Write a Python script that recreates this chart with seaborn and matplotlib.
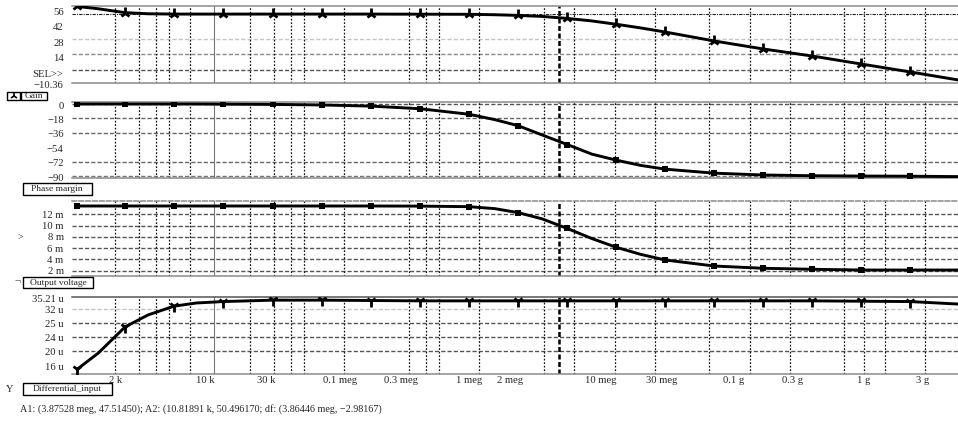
import seaborn as sns
import pandas as pd
import matplotlib.pyplot as plt
from matplotlib.patches import Rectangle
from matplotlib.lines import Line2D
from matplotlib.ticker import FixedLocator, NullLocator
from matplotlib.transforms import ScaledTranslation

# values
freq_hz = [1.045e3, 1.5e3, 2.37e3, 3.5e3, 5.47e3, 8.0e3, 12.6e3, 29.6e3, 68.2e3,
           157e3, 363e3, 837e3, 1.3e6, 1.93e6, 2.9e6, 4.46e6, 6.8e6, 10.3e6,
           15.6e6, 23.7e6, 54.7e6, 126e6, 291e6, 671e6, 1.55e9, 3.5e9]
marker_idx = [0, 2, 4, 6, 7, 8, 9, 10, 11, 13, 15, 17, 19, 20, 21, 22, 23, 24]

gain_db = [57.4, 55.3, 51.8, 50.8, 50.5, 50.5, 50.5, 50.5, 50.5, 50.5, 50.4, 50.3, 49.9,
           49.3, 48.4, 46.6, 44.3, 41.3, 38.0, 34.3, 26.2, 19.0, 12.6, 5.4, -1.8, -9.0]
phase_deg = [0, 0, 0, 0, 0, 0, -0.2, -0.5, -1.2, -2.6, -5.9, -12.8, -19.5, -27.0, -38.5,
             -50.5, -62.5, -70.0, -76.5, -81.2, -86.2, -88.5, -89.4, -89.8, -90.0, -90.5]
vout_mv = [13.47, 13.47, 13.47, 13.47, 13.47, 13.47, 13.47, 13.47, 13.47, 13.47, 13.45,
           13.35, 13.0, 12.3, 11.2, 9.5, 7.7, 6.15, 4.9, 3.9, 2.83, 2.43, 2.25, 2.12, 2.12, 2.12]
vin_uv = [14.8, 19.4, 26.8, 30.2, 32.7, 33.6, 34.0, 34.4, 34.4, 34.3, 34.2, 34.2, 34.2,
          34.2, 34.2, 34.2, 34.2, 34.2, 34.2, 34.2, 34.2, 34.2, 34.2, 34.1, 34.0, 33.3]

# vertical grid of the viewer (not on round decades)
grid_freqs = [2e3, 3e3, 4e3, 5e3, 7.2e3, 20e3, 30e3, 40e3, 50e3, 100e3, 300e3, 400e3,
              500e3, 1e6, 3e6, 5e6, 10e6, 20e6, 50e6, 100e6, 200e6, 500e6, 700e6, 1e9, 2e9]
cursor_a1 = 3.87528e6
cursor_a2 = 10.81891e3
gain_a2 = 50.49617

xtick_pos = [2.02e3, 9.3e3, 2.65e4, 9.3e4, 2.62e5, 8.4e5, 1.69e6, 7.96e6, 2.25e7,
             7.57e7, 2.07e8, 7.06e8, 1.9e9]
xtick_labels = ['2 k', '10 k', '30 k', '0.1 meg', '0.3 meg', '1 meg', '2 meg', '10 meg',
                '30 meg', '0.1 g', '0.3 g', '1 g', '3 g']

gain_ticks = [56, 42, 28, 14, 0, -10.36]
gain_labels = ['56', '42', '28', '14', 'SEL>>', '\u221210.36']
phase_ticks = [0, -18, -36, -54, -72, -90]
phase_labels = ['0', '\u221218', '\u221236', '\u221254', '\u221272', '\u221290']
vout_ticks = [12, 10, 8, 6, 4, 2]
vout_labels = ['12 m', '10 m', '8 m', '6 m', '4 m', '2 m']
vin_ticks = [35.21, 32, 28, 24, 20, 16]
vin_labels = ['35.21 u', '32 u', '25 u', '24 u', '20 u', '16 u']

df = pd.DataFrame({'freq': freq_hz, 'gain': gain_db, 'phase': phase_deg,
                   'vout': vout_mv, 'vin': vin_uv})

sns.set_style('white')
plt.rcParams['font.family'] = ['Liberation Serif', 'DejaVu Serif']
plt.rcParams['axes.unicode_minus'] = True

W, H = 958, 421
fig = plt.figure(figsize=(W / 100, H / 100), dpi=100)


def fx(px):
    return px / W


def fy(py):
    return 1 - py / H


# (top px, bottom px, column, ylim, ticks, labels, hgrid, marker, label shift px)
panels = [
    (6, 82.7, 'gain', (-11.5, 57.8), gain_ticks, gain_labels,
     [(28, '#c4c4c4'), (14, '#8a8a8a'), (0, '#555555')], '2', 3.5),
    (102, 178.3, 'phase', (-92.6, 2.5), phase_ticks, phase_labels,
     [(0, '#555555'), (-18, '#666666'), (-36, '#666666'), (-72, '#666666'), (-90, '#777777')], 's', 1),
    (200.7, 276, 'vout', (1.06, 14.41), vout_ticks, vout_labels,
     [(12, '#555555'), (10, '#555555'), (8, '#555555'), (6, '#555555'), (4, '#555555'), (2, '#555555')], 's', 0),
    (297.3, 374, 'vin', (13.48, 35.21), vin_ticks, vin_labels,
     [(32, '#c4c4c4'), (28, '#555555'), (24, '#555555'), (20, '#555555')], '1', 1),
]

axes = []
for i, (top, bot, col, ylim, ticks, labels, hgrid, mk, shift) in enumerate(panels):
    ax = fig.add_axes([fx(72), fy(bot), 1 - fx(72), (bot - top) / H],
                      sharex=axes[0] if axes else None)
    ax.set_xscale('log')
    ax.set_xlim(959, 3.5e9)
    ax.set_ylim(*ylim)

    for y, c in hgrid:
        ax.axhline(y, color=c, lw=1, dashes=(3, 1.5), zorder=1)
    for f in grid_freqs:
        ax.axvline(f, color='#111111', lw=0.9, dashes=(1.4, 1.4), zorder=1)
    ax.axvline(cursor_a2, color='#777777', lw=0.8, zorder=1)
    ax.axvline(cursor_a1, color='black', lw=1.8, dashes=(2, 1), zorder=2)
    if col == 'gain':
        ax.axhline(gain_a2, color='#222222', lw=0.8, dashes=(3, 1, 1, 1), zorder=1)

    if mk in ('1', '2'):
        mstyle = dict(marker=mk, markersize=8, markeredgewidth=2)
    else:
        mstyle = dict(marker=mk, markersize=4.5, markeredgewidth=0)
    sns.lineplot(data=df, x='freq', y=col, ax=ax, color='black', lw=2.1,
                 errorbar=None, markevery=marker_idx, markerfacecolor='black',
                 markeredgecolor='black', zorder=3, **mstyle)

    ax.set_xlabel('')
    ax.set_ylabel('')
    ax.yaxis.set_major_locator(FixedLocator(ticks))
    ax.set_yticklabels(labels)
    ax.xaxis.set_minor_locator(NullLocator())
    ax.yaxis.set_minor_locator(NullLocator())
    ax.tick_params(axis='y', length=0, pad=6, labelsize=7.7)
    ax.tick_params(axis='x', length=0, pad=1.5, labelsize=7.7)

    ax.spines['left'].set_visible(False)
    ax.spines['right'].set_visible(False)
    ax.spines['bottom'].set_color('#8a8a8a')
    ax.spines['bottom'].set_linewidth(1.1)
    ax.spines['top'].set_color('#8a8a8a')
    ax.spines['top'].set_linewidth(1.1)
    if col == 'vout':
        ax.spines['top'].set_linestyle((0, (3, 1.5)))
    if col == 'vin':
        ax.spines['top'].set_color('#555555')

    for lab in ax.get_yticklabels():
        lab.set_transform(lab.get_transform() +
                          ScaledTranslation(0, -shift / 100, fig.dpi_scale_trans))
    axes.append(ax)

for ax in axes[:-1]:
    ax.tick_params(axis='x', labelbottom=False)
axes[-1].xaxis.set_major_locator(FixedLocator(xtick_pos))
axes[-1].set_xticklabels(xtick_labels)
axes[-1].xaxis.set_minor_locator(NullLocator())


def label_box(x0, x1, y0, y1, text, size=6.8):
    fig.add_artist(Rectangle((fx(x0), fy(y1)), fx(x1) - fx(x0), (y1 - y0) / H,
                             transform=fig.transFigure, fill=False, ec='black', lw=1))
    fig.text(fx((x0 + x1) / 2), fy((y0 + y1) / 2), text, ha='center', va='center',
             fontsize=size)


# signal name boxes under each panel
label_box(7.3, 20, 92, 99.5, '')
fig.add_artist(Line2D([fx(13.6)], [fy(95.8)], marker='2', ms=5, mew=1.2, color='black',
                      transform=fig.transFigure))
label_box(20.7, 46.7, 92, 99.5, 'Gain')
label_box(22.7, 91.7, 183.3, 195, 'Phase margin')
label_box(23.3, 92.7, 277.3, 288.3, 'Output voltage')
label_box(22.7, 111.7, 383.3, 395, 'Differential_input')

fig.text(fx(18), fy(282), '\u00ac', ha='center', va='center', fontsize=8)
fig.text(fx(20), fy(237.5), '>', ha='center', va='center', fontsize=7)
fig.text(fx(10), fy(389), 'Y', ha='center', va='center', fontsize=7.5)

fig.text(fx(20), fy(409), 'A1: (3.87528 meg, 47.51450); A2: (10.81891 k, 50.496170; '
         'df: (3.86446 meg, \u22122.98167)', ha='left', va='center', fontsize=7.3)

fig.savefig('out.png', dpi=100)
